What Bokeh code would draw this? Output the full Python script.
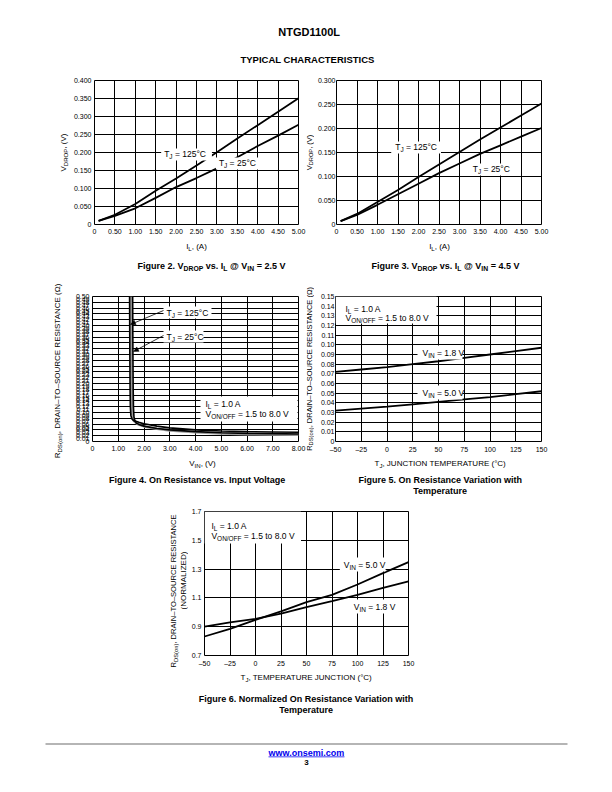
import math
from bokeh.plotting import figure
from bokeh.layouts import column, row
from bokeh.models import Label, Range1d, FixedTicker, Arrow, NormalHead, BoxAnnotation, Spacer
from bokeh.embed import file_html
from bokeh.resources import INLINE

FONT = "Liberation Sans"

# ------------------------------------------------------------------ data
# Figure 2: VDROP vs IL @ VIN = 2.5 V
fig2_il = [0.1, 0.5, 1.0, 1.5, 2.0, 2.5, 3.0, 3.5, 4.0, 4.5, 5.0]
fig2_v125 = [0.010, 0.027, 0.057, 0.094, 0.128, 0.164, 0.201, 0.239, 0.276, 0.313, 0.351]
fig2_v25 = [0.010, 0.024, 0.045, 0.074, 0.104, 0.129, 0.156, 0.187, 0.218, 0.247, 0.277]

# Figure 3: VDROP vs IL @ VIN = 4.5 V
fig3_il = [0.1, 0.5, 1.0, 1.5, 2.0, 2.5, 3.0, 3.5, 4.0, 4.5, 5.0]
fig3_v125 = [0.007, 0.022, 0.047, 0.072, 0.099, 0.125, 0.151, 0.177, 0.202, 0.227, 0.252]
fig3_v25 = [0.007, 0.020, 0.041, 0.063, 0.085, 0.107, 0.127, 0.147, 0.165, 0.183, 0.201]

# Figure 4: RDS(on) vs VIN
fig4_vin125 = [1.44, 1.45, 1.46, 1.47, 1.49, 1.53, 1.6, 1.8, 2.0, 2.5, 3.0, 4.0, 5.0, 6.0, 7.0, 8.0]
fig4_r125 = [0.50, 0.30, 0.18, 0.12, 0.09, 0.078, 0.072, 0.066, 0.061, 0.053, 0.047, 0.040, 0.036, 0.034, 0.033, 0.032]
fig4_vin25 = [1.56, 1.57, 1.58, 1.59, 1.61, 1.65, 1.7, 1.8, 2.0, 2.5, 3.0, 4.0, 5.0, 6.0, 7.0, 8.0]
fig4_r25 = [0.50, 0.30, 0.18, 0.12, 0.085, 0.070, 0.064, 0.059, 0.053, 0.045, 0.040, 0.034, 0.030, 0.028, 0.027, 0.026]
fig4_ving = [1.50, 1.51, 1.52, 1.53, 1.55, 1.6, 1.7, 1.8, 2.0, 2.5, 3.0, 4.0, 5.0, 6.0, 7.0, 8.0]
fig4_rg = [0.50, 0.30, 0.18, 0.11, 0.085, 0.072, 0.063, 0.058, 0.052, 0.044, 0.038, 0.032, 0.028, 0.025, 0.024, 0.023]

# Figure 5: RDS(on) vs TJ
fig5_tj = [-50, -25, 0, 25, 50, 75, 100, 125, 150]
fig5_r18 = [0.072, 0.0745, 0.077, 0.080, 0.083, 0.0865, 0.090, 0.0935, 0.097]
fig5_r50 = [0.032, 0.034, 0.036, 0.0385, 0.041, 0.0435, 0.046, 0.049, 0.052]

# Figure 6: normalized RDS(on) vs TJ
fig6_tj = [-50, -25, 0, 25, 50, 75, 100, 125, 150]
fig6_n18 = [0.90, 0.93, 0.955, 0.99, 1.036, 1.077, 1.121, 1.17, 1.214]
fig6_n50 = [0.832, 0.885, 0.948, 1.006, 1.07, 1.121, 1.193, 1.272, 1.348]

# ticks
il_ticks = [0, 0.5, 1.0, 1.5, 2.0, 2.5, 3.0, 3.5, 4.0, 4.5, 5.0]
il_labels = ["0", "0.50", "1.00", "1.50", "2.00", "2.50", "3.00", "3.50", "4.00", "4.50", "5.00"]
v2_ticks = [0, 0.05, 0.1, 0.15, 0.2, 0.25, 0.3, 0.35, 0.4]
v2_labels = ["0", "0.050", "0.100", "0.150", "0.200", "0.250", "0.300", "0.350", "0.400"]
v3_ticks = [0, 0.05, 0.1, 0.15, 0.2, 0.25, 0.3]
v3_labels = ["0", "0.050", "0.100", "0.150", "0.200", "0.250", "0.300"]
vin_ticks = [0, 1, 2, 3, 4, 5, 6, 7, 8]
vin_labels = ["0", "1.00", "2.00", "3.00", "4.00", "5.00", "6.00", "7.00", "8.00"]
r4_ticks = [round(i * 0.01, 2) for i in range(51)]
r4_labels = ["0"] + ["%.2f" % v for v in r4_ticks[1:]]
r4_grid = [round(i * 0.02, 2) for i in range(26)]
tj_ticks = [-50, -25, 0, 25, 50, 75, 100, 125, 150]
tj_labels = ["\u201350", "\u201325", "0", "25", "50", "75", "100", "125", "150"]
r5_ticks = [round(i * 0.01, 2) for i in range(16)]
r5_labels = ["0"] + ["%.2f" % v for v in r5_ticks[1:]]
n6_ticks = [0.7, 0.9, 1.1, 1.3, 1.5, 1.7]
n6_labels = ["0.7", "0.9", "1.1", "1.3", "1.5", "1.7"]

# ------------------------------------------------------------------ text metrics (Arial-compatible)
REG = {' ': 278, '(': 333, ')': 333, ',': 278, '-': 333, '.': 278, '/': 278, '=': 584, '@': 1015,
       '\u00b0': 400, '\u03a9': 768, '\u2013': 556,
       'A': 667, 'B': 667, 'C': 722, 'D': 722, 'E': 667, 'F': 611, 'G': 778, 'H': 722, 'I': 278, 'J': 500,
       'K': 667, 'L': 556, 'M': 833, 'N': 722, 'O': 778, 'P': 667, 'Q': 778, 'R': 722, 'S': 667, 'T': 611,
       'U': 722, 'V': 667, 'W': 944, 'X': 667, 'Y': 667, 'Z': 611,
       'a': 556, 'b': 556, 'c': 500, 'd': 556, 'e': 556, 'f': 278, 'g': 556, 'h': 556, 'i': 222, 'j': 222,
       'k': 500, 'l': 222, 'm': 833, 'n': 556, 'o': 556, 'p': 556, 'q': 556, 'r': 333, 's': 500, 't': 278,
       'u': 556, 'v': 500, 'w': 722, 'x': 500, 'y': 500, 'z': 500}
BOLD = {' ': 278, '(': 333, ')': 333, ',': 278, '-': 333, '.': 278, '/': 278, '=': 584, '@': 975,
        '\u00b0': 400, '\u03a9': 768,
        'A': 722, 'B': 722, 'C': 722, 'D': 722, 'E': 667, 'F': 611, 'G': 778, 'H': 722, 'I': 278, 'J': 556,
        'K': 722, 'L': 611, 'M': 833, 'N': 722, 'O': 778, 'P': 667, 'R': 722, 'S': 667, 'T': 611, 'U': 722,
        'V': 667, 'W': 944, 'Y': 667,
        'a': 556, 'b': 611, 'c': 556, 'd': 611, 'e': 556, 'f': 333, 'g': 611, 'h': 611, 'i': 278, 'l': 278,
        'm': 889, 'n': 611, 'o': 611, 'p': 611, 'r': 389, 's': 556, 't': 333, 'u': 611, 'v': 556, 'w': 778}


def text_w(t, size, bold):
    tab = BOLD if bold else REG
    return sum(tab.get(c, 556) for c in t) * size / 1000.0


class Panel:
    def __init__(self, left, top, w, h, frame=None, xr=None, yr=None, axes=True):
        if frame is None:           # pure text panel: data coords == page pixels
            frame = (left, top, left + w, top + h)
            xr = (left, left + w)
            yr = (top + h, top)
            axes = False
        fl, ft, fr, fb = frame
        self.fl, self.ft, self.fr, self.fb = fl, ft, fr, fb
        self.xr, self.yr = xr, yr
        p = figure(width=w, height=h, x_range=Range1d(*xr), y_range=Range1d(*yr),
                   output_backend="svg", toolbar_location=None, title_location=None,
                   min_border=0,
                   min_border_left=fl - left, min_border_right=left + w - fr,
                   min_border_top=ft - top, min_border_bottom=top + h - fb,
                   x_axis_location="below" if axes else None,
                   y_axis_location="left" if axes else None)
        p.background_fill_color = "white"
        p.border_fill_color = "white"
        p.outline_line_color = "black" if axes else None
        p.outline_line_width = 1
        if not axes:
            p.grid.visible = False
        self.p = p

    def dx(self, px):
        x0, x1 = self.xr
        return x0 + (px - self.fl) / (self.fr - self.fl) * (x1 - x0)

    def dy(self, py):
        y0, y1 = self.yr
        return y0 + (self.fb - py) / (self.fb - self.ft) * (y1 - y0)

    def axes(self, xt, xl, yt, yl, xg, yg, ystand=3):
        p = self.p
        p.xaxis.ticker = FixedTicker(ticks=xt)
        p.xaxis.major_label_overrides = dict(zip(xt, xl))
        p.yaxis.ticker = FixedTicker(ticks=yt)
        p.yaxis.major_label_overrides = dict(zip(yt, yl))
        for ax in (p.xaxis[0], p.yaxis[0]):
            ax.axis_line_color = None
            ax.major_tick_line_color = None
            ax.minor_tick_line_color = None
            ax.major_tick_out = 0
            ax.major_tick_in = 0
            ax.major_label_text_font = FONT
            ax.major_label_text_font_size = "7px"
            ax.major_label_text_color = "black"
        p.xaxis[0].major_label_standoff = 4
        p.yaxis[0].major_label_standoff = ystand
        p.xgrid.ticker = FixedTicker(ticks=xg)
        p.ygrid.ticker = FixedTicker(ticks=yg)
        for g in (p.xgrid[0], p.ygrid[0]):
            g.grid_line_color = "black"
            g.grid_line_width = 1
            g.grid_line_alpha = 1

    def rich(self, px, py, pieces, size, bold=False, align="left", angle=0.0, color="black", drop_k=0.22):
        """(px, py) = start (or centre) of the run along the text, glyph centre across it."""
        sub = 0.76
        sizes = [size if k == "n" else size * sub for (t, k) in pieces]
        total = sum(text_w(t, s, bold) for (t, k), s in zip(pieces, sizes))
        off = 0.0 if align == "left" else (-total / 2.0 if align == "center" else -total)
        for (t, k), s in zip(pieces, sizes):
            drop = (drop_k + 0.35 * (1 - sub)) * size if k == "s" else 0.0
            lead = len(t) - len(t.lstrip(" "))
            off += text_w(" " * lead, s, bold)
            body = t.strip(" ")
            if angle == 0:
                x, y = px + off, py + drop
            else:
                x, y = px + drop, py - off
            if body:
                self.p.add_layout(Label(x=self.dx(x), y=self.dy(y), text=body, text_font=FONT,
                                        text_font_size="%.2fpx" % s,
                                        text_font_style="bold" if bold else "normal",
                                        text_color=color, text_align="left",
                                        text_baseline="middle", angle=angle))
            off += text_w(t.lstrip(" "), s, bold)
        return total

    def box(self, l, r, t, b, color="white"):
        self.p.add_layout(BoxAnnotation(left=self.dx(l), right=self.dx(r), top=self.dy(t),
                                        bottom=self.dy(b), fill_color=color, fill_alpha=1,
                                        line_alpha=0))

    def arrow(self, x0, y0, x1, y1):
        self.p.add_layout(Arrow(x_start=self.dx(x0), y_start=self.dy(y0), x_end=self.dx(x1),
                                y_end=self.dy(y1), line_color="black", line_width=0.8,
                                end=NormalHead(size=5, fill_color="black", line_color="black",
                                               line_width=0.5)))


ANN = 8.5   # annotation size
AXL = 8     # axis title size
CAP = 9     # caption size
LW = 1.8
UP = math.pi / 2

# ------------------------------------------------------------------ header
hd = Panel(8, 8, 596, 62)
hd.rich(309, 31, [("NTGD1100L", "n")], 11, bold=True, align="center")
hd.rich(307, 58.5, [("TYPICAL CHARACTERISTICS", "n")], 9.5, bold=True, align="center")

# ------------------------------------------------------------------ row 1: figures 2 and 3
f2 = Panel(70, 70, 236, 170, (93, 80, 298, 224), (0, 5), (0, 0.4))
f2.axes(il_ticks, il_labels, v2_ticks, v2_labels, il_ticks, v2_ticks)
f2.p.line(fig2_il, fig2_v125, line_color="black", line_width=LW)
f2.p.line(fig2_il, fig2_v25, line_color="black", line_width=LW)
f2.box(160, 211, 148, 160)
f2.rich(163, 153.5, [("T", "n"), ("J", "s"), (" = 125\u00b0C", "n")], ANN)
f2.box(215, 260, 157, 169)
f2.rich(218, 162.5, [("T", "n"), ("J", "s"), (" = 25\u00b0C", "n")], ANN)
l2 = Panel(8, 70, 62, 170)
l2.rich(63, 152, [("V", "n"), ("DROP", "s"), (", (V)", "n")], AXL, align="center", angle=UP)

f3 = Panel(314, 70, 290, 170, (335, 80, 541, 224), (0, 5), (0, 0.3))
f3.axes(il_ticks, il_labels, v3_ticks, v3_labels, il_ticks, v3_ticks, ystand=1)
f3.p.line(fig3_il, fig3_v125, line_color="black", line_width=LW)
f3.p.line(fig3_il, fig3_v25, line_color="black", line_width=LW)
f3.box(390, 440, 141, 153)
f3.rich(394, 146.5, [("T", "n"), ("J", "s"), (" = 125\u00b0C", "n")], ANN)
f3.box(469, 510, 163, 175)
f3.rich(472, 168.5, [("T", "n"), ("J", "s"), (" = 25\u00b0C", "n")], ANN)
l3 = Panel(306, 70, 8, 170)
l3.rich(309.3, 152, [("V", "n"), ("DROP", "s"), (", (V)", "n")], 7.5, align="center", angle=UP, drop_k=0.12)

band1 = Panel(8, 240, 596, 42)
band1.rich(196, 246, [("I", "n"), ("L", "s"), (", (A)", "n")], AXL, align="center")
band1.rich(211, 265, [("Figure 2. V", "n"), ("DROP", "s"), (" vs. I", "n"), ("L", "s"),
                      (" @ V", "n"), ("IN", "s"), (" = 2.5 V", "n")], CAP, bold=True, align="center")
band1.rich(439, 246, [("I", "n"), ("L", "s"), (", (A)", "n")], AXL, align="center")
band1.rich(445, 265, [("Figure 3. V", "n"), ("DROP", "s"), (" vs. I", "n"), ("L", "s"),
                      (" @ V", "n"), ("IN", "s"), (" = 4.5 V", "n")], CAP, bold=True, align="center")

# ------------------------------------------------------------------ row 2: figures 4 and 5
f4 = Panel(68, 282, 238, 177, (92, 296, 298, 441), (0, 8), (0, 0.5))
f4.axes(vin_ticks, vin_labels, r4_ticks, r4_labels, vin_ticks, r4_grid)
f4.p.line(fig4_ving, fig4_rg, line_color="#9a9a9a", line_width=2.5)
f4.p.line(fig4_vin125, fig4_r125, line_color="black", line_width=1.6)
f4.p.line(fig4_vin25, fig4_r25, line_color="black", line_width=1.6)
f4.box(163, 211, 306, 318)
f4.rich(166, 312, [("T", "n"), ("J", "s"), (" = 125\u00b0C", "n")], ANN)
f4.box(163, 203, 330, 342)
f4.rich(166, 336, [("T", "n"), ("J", "s"), (" = 25\u00b0C", "n")], ANN)
f4.arrow(163, 310, 130, 324)
f4.arrow(163, 335, 133, 351)
f4.box(200, 297, 396, 421)
f4.rich(205, 403, [("I", "n"), ("L", "s"), (" = 1.0 A", "n")], ANN)
f4.rich(205, 413.5, [("V", "n"), ("ON/OFF", "s"), (" = 1.5 to 8.0 V", "n")], ANN)
l4 = Panel(8, 282, 60, 177)
l4.rich(57, 370, [("R", "n"), ("DS(on)", "s"), (", DRAIN\u2013TO\u2013SOURCE RESISTANCE (\u03a9)", "n")],
        AXL, align="center", angle=UP)

f5 = Panel(314, 282, 290, 177, (335, 296, 541, 441), (-50, 150), (0, 0.15))
f5.axes(tj_ticks, tj_labels, r5_ticks, r5_labels, tj_ticks, r5_ticks, ystand=1)
f5.p.line(fig5_tj, fig5_r18, line_color="black", line_width=LW)
f5.p.line(fig5_tj, fig5_r50, line_color="black", line_width=LW)
f5.box(335, 436, 296, 323)
f5.rich(345, 308, [("I", "n"), ("L", "s"), (" = 1.0 A", "n")], ANN)
f5.rich(345, 317.5, [("V", "n"), ("ON/OFF", "s"), (" = 1.5 to 8.0 V", "n")], ANN)
f5.box(417, 462, 345, 359)
f5.rich(422, 352, [("V", "n"), ("IN", "s"), (" = 1.8 V", "n")], ANN)
f5.box(417, 462, 385, 399)
f5.rich(422, 392, [("V", "n"), ("IN", "s"), (" = 5.0 V", "n")], ANN)
l5 = Panel(306, 282, 8, 177)
l5.rich(309.3, 368, [("R", "n"), ("DS(on)", "s"), (", DRAIN\u2013TO\u2013SOURCE RESISTANCE (\u03a9)", "n")],
        7.5, align="center", angle=UP, drop_k=0.12)

band2 = Panel(8, 459, 596, 41)
band2.rich(202, 463, [("V", "n"), ("IN", "s"), (", (V)", "n")], AXL, align="center")
band2.rich(197, 479, [("Figure 4. On Resistance vs. Input Voltage", "n")], CAP, bold=True, align="center")
band2.rich(440, 463, [("T", "n"), ("J", "s"), (", JUNCTION TEMPERATURE (\u00b0C)", "n")], AXL, align="center")
band2.rich(440, 479, [("Figure 5. On Resistance Variation with", "n")], CAP, bold=True, align="center")
band2.rich(440, 490, [("Temperature", "n")], CAP, bold=True, align="center")

# ------------------------------------------------------------------ row 3: figure 6
f6 = Panel(188, 500, 272, 170, (203, 511, 408, 655), (-50, 150), (0.7, 1.7))
f6.axes(tj_ticks, tj_labels, n6_ticks, n6_labels, tj_ticks, n6_ticks)
f6.p.line(fig6_tj, fig6_n18, line_color="black", line_width=LW)
f6.p.line(fig6_tj, fig6_n50, line_color="black", line_width=LW)
f6.box(203, 300, 511, 543)
f6.rich(210, 525, [("I", "n"), ("L", "s"), (" = 1.0 A", "n")], ANN)
f6.rich(210, 535, [("V", "n"), ("ON/OFF", "s"), (" = 1.5 to 8.0 V", "n")], ANN)
f6.box(339, 385, 557, 571)
f6.rich(343, 564, [("V", "n"), ("IN", "s"), (" = 5.0 V", "n")], ANN)
f6.box(349, 401, 599, 613)
f6.rich(353, 606, [("V", "n"), ("IN", "s"), (" = 1.8 V", "n")], ANN)
l6 = Panel(150, 500, 38, 170)
l6.rich(173, 590, [("R", "n"), ("DS(on)", "s"), (", DRAIN\u2013TO\u2013SOURCE RESISTANCE", "n")],
        7.6, align="center", angle=UP)
l6.rich(183, 580, [("(NORMALIZED)", "n")], AXL, align="center", angle=UP)

band3 = Panel(8, 670, 596, 50)
band3.rich(306, 677, [("T", "n"), ("J", "s"), (", TEMPERATURE JUNCTION (\u00b0C)", "n")], AXL, align="center")
band3.rich(306, 698, [("Figure 6. Normalized On Resistance Variation with", "n")], CAP, bold=True, align="center")
band3.rich(306, 709, [("Temperature", "n")], CAP, bold=True, align="center")

# ------------------------------------------------------------------ footer
ft = Panel(8, 720, 596, 64)
ft.box(45, 567, 742.5, 744.5, color="#b5b5b5")
wlink = ft.rich(306, 752, [("www.onsemi.com", "n")], 9, bold=True, align="center", color="#0000ee")
ft.box(306 - wlink / 2, 306 + wlink / 2, 756.0, 756.8, color="#0000ee")
ft.rich(306, 762, [("3", "n")], 8, bold=True, align="center")

page = column(
    hd.p,
    row(l2.p, column(f2.p), l3.p, column(f3.p)),
    band1.p,
    row(l4.p, column(f4.p), l5.p, column(f5.p)),
    band2.p,
    row(Spacer(width=142, height=170), l6.p, column(f6.p)),
    band3.p,
    ft.p,
)
layout = column(Spacer(width=612, height=8), row(Spacer(width=8, height=776), page))

open("out.html", "w").write(file_html(layout, INLINE))
